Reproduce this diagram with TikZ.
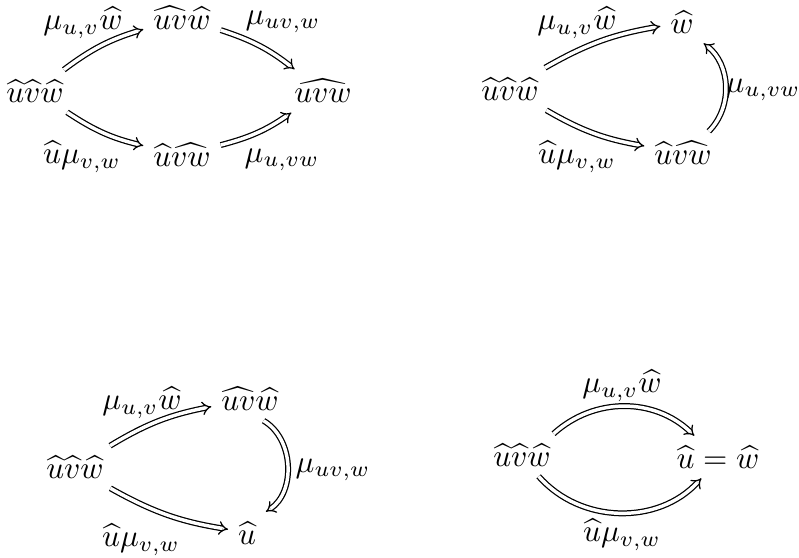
\documentclass[tikz,border=0pt]{standalone}
\usepackage{amsmath}
\usetikzlibrary{arrows.meta}
\begin{document}
\begin{tikzpicture}[x=0.32pt,y=0.32pt,
  ob/.style={inner sep=3pt},
  lb/.style={inner sep=1pt},
  dar/.style={double,double distance=1.1pt,line width=0.4pt,-{Implies}}]
  \path[use as bounding box] (0,0) rectangle (799,557);
  % top left
  \node[ob] (a1) at (35,466)  {$\widehat{u}\widehat{v}\widehat{w}$};
  \node[ob] (b1) at (182,539) {$\widehat{uv}\widehat{w}$};
  \node[ob] (c1) at (182,402) {$\widehat{u}\widehat{vw}$};
  \node[ob] (d1) at (323,466) {$\widehat{uvw}$};
  \node[lb] (l1) at (83,534)  {$\mu_{u,v}\widehat{w}$};
  \node[lb] (l2) at (283,535) {$\mu_{uv,w}$};
  \node[lb] (l3) at (82,400)  {$\widehat{u}\mu_{v,w}$};
  \node[lb] (l4) at (282,397) {$\mu_{u,vw}$};
  \draw[dar] (a1) to[bend left=10] (b1);
  \draw[dar] (b1) to[bend left=10] (d1);
  \draw[dar] (a1) to[bend right=10] (c1);
  \draw[dar] (c1) to[bend right=10] (d1);
  % top right
  \node[ob] (a2) at (510,468) {$\widehat{u}\widehat{v}\widehat{w}$};
  \node[ob] (w2) at (682,535) {$\widehat{w}$};
  \node[ob] (c2) at (683,404) {$\widehat{u}\widehat{vw}$};
  \node[lb] (l5) at (577,534) {$\mu_{u,v}\widehat{w}$};
  \node[lb] (l6) at (577,400) {$\widehat{u}\mu_{v,w}$};
  \node[lb] (l7) at (763,467) {$\mu_{u,vw}$};
  \draw[dar] (a2) to[bend left=10] (w2);
  \draw[dar] (a2) to[bend right=10] (c2);
  \draw[dar] (c2.40) to[bend right=48] (w2.south east);
  % bottom left
  \node[ob] (a3) at (75,90)   {$\widehat{u}\widehat{v}\widehat{w}$};
  \node[ob] (b3) at (250,158) {$\widehat{uv}\widehat{w}$};
  \node[ob] (u3) at (247,24)  {$\widehat{u}$};
  \node[lb] (l8) at (142,154) {$\mu_{u,v}\widehat{w}$};
  \node[lb] (l9) at (333,87)  {$\mu_{uv,w}$};
  \node[lb] (l10) at (141,17) {$\widehat{u}\mu_{v,w}$};
  \draw[dar] (a3) to[bend left=10] (b3);
  \draw[dar] (b3.-58) to[bend left=58] (u3.north east);
  \draw[dar] (a3) to[bend right=10] (u3);
  % bottom right
  \node[ob] (a4) at (522,102) {$\widehat{u}\widehat{v}\widehat{w}$};
  \node[ob] (e4) at (718,100) {$\widehat{u}=\widehat{w}$};
  \node[lb] (l11) at (622,171) {$\mu_{u,v}\widehat{w}$};
  \node[lb] (l12) at (622,22)  {$\widehat{u}\mu_{v,w}$};
  \draw[dar] (a4.34) to[bend left=43] (e4.138);
  \draw[dar] (a4.-52) to[bend right=48] (e4.-128);
\end{tikzpicture}
\end{document}
